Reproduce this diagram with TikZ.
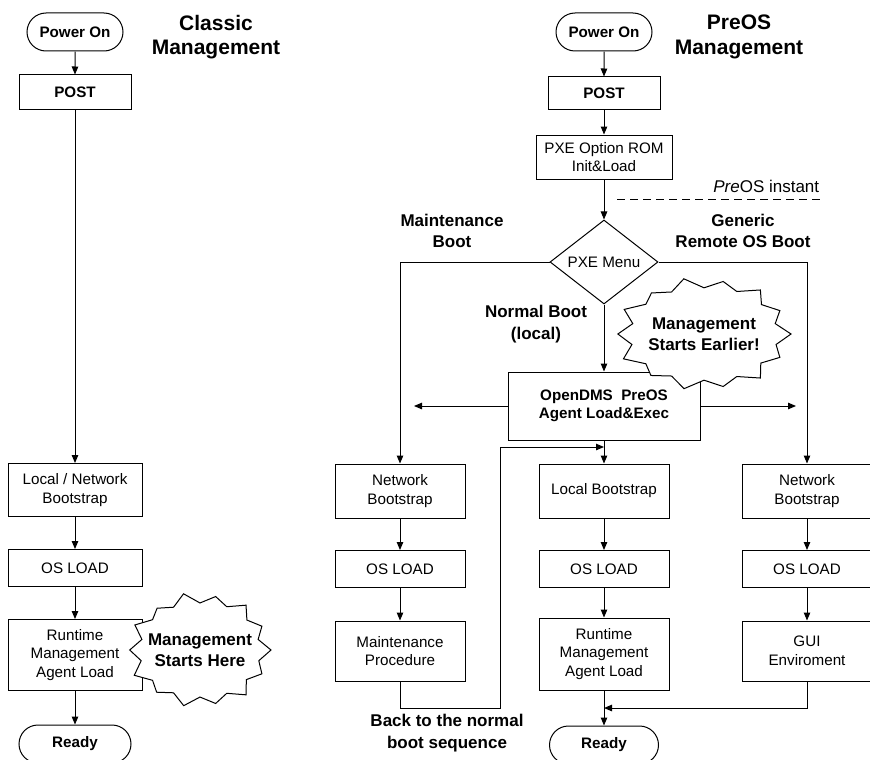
\documentclass[tikz,border=0pt]{standalone}
\usepackage{fontspec}
\setmainfont{Liberation Sans}
\usepackage{tikz}
\usetikzlibrary{shapes,arrows,arrows.meta}

\newcommand{\boxfont}{\fontsize{15.2}{18.5}\selectfont}
\newcommand{\bboxfont}{\fontsize{15.2}{18.5}\selectfont\bfseries}
\newcommand{\lblfont}{\fontsize{17}{21.4}\selectfont\bfseries}
\newcommand{\ttlfont}{\fontsize{21}{24.5}\selectfont\bfseries}
% jagged burst outline: centre, x radius, y radius
\newcommand{\drawburst}[3]{%
  \filldraw[fill=white] (#1) +(#2,0)
    \foreach \a/\s in {13/0.85, 26/0.97, 39/0.84, 51/1.03, 64/0.86, 77/0.98, 90/0.84,
                       103/1.02, 116/0.85, 129/0.97, 141/0.86, 154/1.03, 167/0.85, 180/0.99,
                       193/0.84, 206/1.02, 219/0.86, 231/0.96, 244/0.85, 257/1.03, 270/0.84,
                       283/0.98, 296/0.86, 309/1.03, 321/0.85, 334/0.97, 347/0.84}
    { -- +({\s*#2*cos(\a)},{\s*#3*sin(\a)}) } -- cycle;}

\begin{document}
\begin{tikzpicture}[x=1pt,y=-1pt,line width=1pt,>={Triangle[length=8pt,width=6.5pt]},
    stepbox/.style={draw,rectangle,fill=white,align=center,inner sep=0pt,font=\boxfont,minimum width=130pt,minimum height=54pt},
    boldbox/.style={stepbox,font=\bboxfont},
    term/.style={draw,rounded rectangle,fill=white,inner sep=0pt,font=\bboxfont,minimum width=96pt,minimum height=38pt},
    menu/.style={draw,diamond,aspect=1.3,inner sep=0pt,fill=white,font=\boxfont,minimum width=108pt,minimum height=84pt},
    lbl/.style={align=center,font=\lblfont},
    ttl/.style={align=center,font=\ttlfont}]

    % page frame
    \useasboundingbox (0,0) rectangle (870,760);

    % Classic management flow
    \node[ttl] (c_title) at (216,37) {Classic\\Management};
    \node[term] (c_on) at (75,32) {Power On};
    \node[boldbox,minimum width=112pt,minimum height=34pt] (c_post) at (75,92) {POST};
    \node[stepbox,minimum width=134pt,minimum height=53pt] (c_boot) at (75,490) {Local / Network\\Bootstrap};
    \node[stepbox,minimum width=134pt,minimum height=37pt] (c_os) at (75,568) {OS LOAD};
    \node[stepbox,minimum width=134pt,minimum height=71pt] (c_agent) at (75,655) {Runtime\\Management\\Agent Load};
    \node[term,minimum width=112pt] (c_ready) at (75,744) {Ready};

    \draw[->] (c_on) -- (c_post);
    \draw[->] (c_post) -- (c_boot);
    \draw[->] (c_boot) -- (c_os);
    \draw[->] (c_os) -- (c_agent);
    \draw[->] (c_agent) -- (c_ready);

    % PreOS management flow
    \node[ttl] (p_title) at (739,37) {PreOS\\Management};
    \node[term] (p_on) at (604,32) {Power On};
    \node[boldbox,minimum width=112pt,minimum height=32pt] (p_post) at (604,93) {POST};
    \node[stepbox,minimum width=136pt,minimum height=44pt] (p_pxe) at (604,157) {PXE Option ROM\\Init\&Load};
    \node[anchor=east,font=\fontsize{17}{20}\selectfont] (p_inst) at (823,186) {\textit{Pre}OS instant};
    \coordinate (p_dash1) at (617,199);
    \coordinate (p_dash2) at (823,199);
    \draw[dash pattern=on 8pt off 5pt] (p_dash1) -- (p_dash2);

    \node[menu] (p_menu) at (604,262) {PXE Menu};
    \node[lbl] (p_maint) at (452,231) {Maintenance\\Boot};
    \node[lbl] (p_generic) at (743,231) {Generic\\Remote OS Boot};
    \node[lbl] (p_normal) at (536,324) {Normal Boot\\(local)};
    \node[boldbox,minimum width=192pt,minimum height=68pt] (p_agent) at (604,406) {OpenDMS~~PreOS\\Agent Load\&Exec};
    \coordinate (p_left) at (414,406);
    \coordinate (p_right) at (796,406);

    % three boot branches
    \node[stepbox] (m_boot) at (400,491) {Network\\Bootstrap};
    \node[stepbox,minimum height=37pt] (m_os) at (400,569) {OS LOAD};
    \node[stepbox,minimum height=60pt] (m_proc) at (400,651) {Maintenance\\Procedure};

    \node[stepbox] (l_boot) at (604,491) {Local Bootstrap};
    \node[stepbox,minimum height=37pt] (l_os) at (604,569) {OS LOAD};
    \node[stepbox,minimum height=72pt] (l_agent) at (604,654) {Runtime\\Management\\Agent Load};
    \node[term,minimum width=109pt] (l_ready) at (604,745) {Ready};

    \node[stepbox] (g_boot) at (807,491) {Network\\Bootstrap};
    \node[stepbox,minimum height=37pt] (g_os) at (807,569) {OS LOAD};
    \node[stepbox,minimum height=60pt] (g_gui) at (807,651) {GUI\\Enviroment};

    \node[lbl] (m_back) at (447,733) {Back to the normal\\boot sequence};
    \coordinate (m_turn) at (500,708);
    \coordinate (m_join) at (604,447);
    \coordinate (g_join) at (604,708);

    \draw[->] (p_on) -- (p_post);
    \draw[->] (p_post) -- (p_pxe);
    \draw[->] (p_pxe) -- (p_menu);
    \draw[->] (p_menu) -- (p_agent);
    \draw[->] (p_menu.west) -| (m_boot.north);
    \draw[->] (p_menu.east) -| (g_boot.north);
    \draw[->] (p_agent.west) -- (p_left);
    \draw[->] (p_agent.east) -- (p_right);
    \draw[->] (p_agent) -- (l_boot);

    \draw[->] (m_boot) -- (m_os);
    \draw[->] (m_os) -- (m_proc);
    \draw[->] (l_boot) -- (l_os);
    \draw[->] (l_os) -- (l_agent);
    \draw[->] (l_agent) -- (l_ready);
    \draw[->] (g_boot) -- (g_os);
    \draw[->] (g_os) -- (g_gui);

    % return paths
    \draw[->] (m_proc.south) |- (m_turn) |- (m_join);
    \draw[->] (g_gui.south) |- (g_join);

    % bursts
    \coordinate (c_mid) at (200,650);
    \drawburst{c_mid}{71}{56}
    \node[lbl] (c_burst) at (c_mid) {Management\\Starts Here};
    \coordinate (p_mid) at (704,334);
    \drawburst{p_mid}{87}{55}
    \node[lbl] (p_burst) at (p_mid) {Management\\Starts Earlier!};
\end{tikzpicture}
\end{document}
